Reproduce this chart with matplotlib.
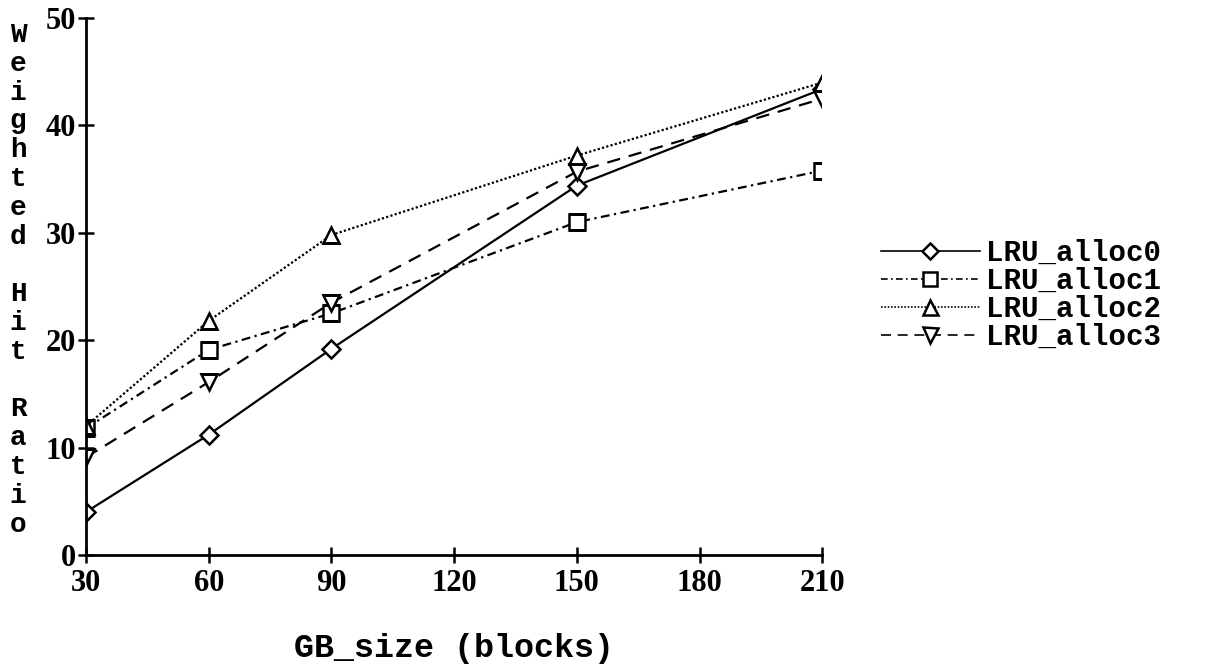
import matplotlib.pyplot as plt
from matplotlib.path import Path

# GB size (blocks) and weighted hit ratio for each allocation policy
gb_size = [30, 60, 90, 150, 210]
alloc0 = [4.0, 11.2, 19.2, 34.4, 43.4]
alloc1 = [11.8, 19.1, 22.5, 31.0, 35.8]
alloc2 = [12.0, 21.8, 29.8, 37.2, 44.0]
alloc3 = [9.1, 16.1, 23.5, 35.7, 42.5]

labels = ["LRU_alloc0", "LRU_alloc1", "LRU_alloc2", "LRU_alloc3"]
xticks = [30, 60, 90, 120, 150, 180, 210]
yticks = [0, 10, 20, 30, 40, 50]

mono = "Liberation Mono"
num_font = "Liberation Serif"

fig = plt.figure(figsize=(12.05, 6.71), dpi=100)
ax = fig.add_axes([0.0714, 0.173, 0.611, 0.800])

styles = [
    dict(ls="-", marker="D", ms=9),
    dict(ls=(0, (4, 2, 1, 2)), marker="s", ms=11),
    dict(ls=(0, (1, 1)), marker="^", ms=12),
    dict(ls=(0, (6, 4)), marker="v", ms=12),
]
for ys, lab, st in zip([alloc0, alloc1, alloc2, alloc3], labels, styles):
    line, = ax.plot(gb_size, ys, color="black", lw=1.6, ls=st["ls"], marker=st["marker"],
                    ms=st["ms"], mfc="white", mec="black", mew=1.8, label=lab)
    # a path clip (not a box) so the end markers get cut at the axis limits
    line.set_clip_path(Path.unit_rectangle(), ax.transAxes)

ax.set_xlim(30, 210)
ax.set_ylim(0, 50)
ax.set_xticks(xticks)
ax.set_yticks(yticks)
for s in ["top", "right"]:
    ax.spines[s].set_visible(False)
for s in ["left", "bottom"]:
    ax.spines[s].set_linewidth(2)
ax.tick_params(direction="inout", length=12, width=1.8)
ax.tick_params(axis="x", pad=4)
ax.tick_params(axis="y", pad=1)
for t in ax.get_xticklabels() + ax.get_yticklabels():
    t.set_fontfamily(num_font)
    t.set_fontweight("bold")
    t.set_fontsize(22)

fig.text(0.015, 0.583, "W\ne\ni\ng\nh\nt\ne\nd\n\nH\ni\nt\n\nR\na\nt\ni\no",
         family=mono, weight="bold", fontsize=20, linespacing=1.14,
         ha="center", va="center")
fig.text(0.377, 0.034, "GB_size (blocks)", family=mono, weight="bold",
         fontsize=24, ha="center", va="center")

leg = ax.legend(loc="center left", bbox_to_anchor=(0.709, 0.56), bbox_transform=fig.transFigure,
                frameon=False, handlelength=3.4, handletextpad=0.2, labelspacing=0.0,
                markerscale=0.9, prop=dict(family=mono, weight="bold", size=21))
for h in leg.legend_handles:
    h.set_linewidth(1.2)

fig.savefig("out.png", dpi=100)
